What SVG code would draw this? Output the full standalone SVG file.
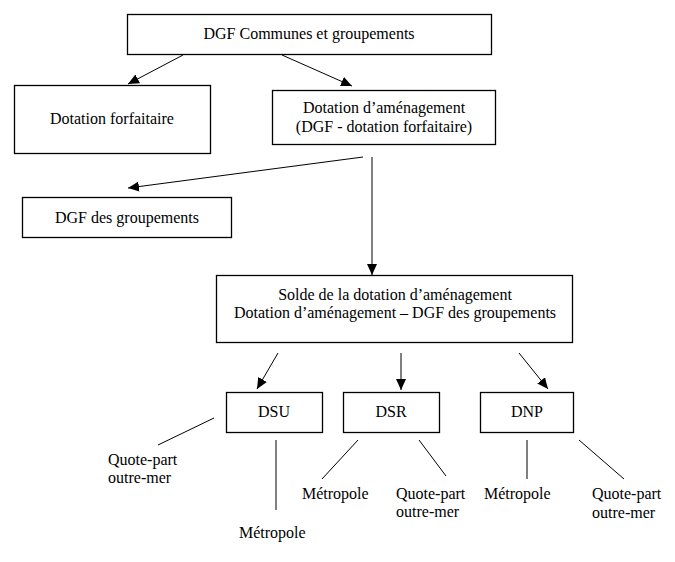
<svg xmlns="http://www.w3.org/2000/svg" width="675" height="562" viewBox="0 0 675 562">
<style>
.box{fill:#fff;stroke:#000;stroke-width:1.3}
.t{font-family:"Liberation Serif","Times New Roman",serif;font-size:16px;fill:#000}
.m{text-anchor:middle}
.c{stroke:#000;stroke-width:1;fill:none}
.a{marker-end:url(#ah)}
</style>
<defs>
<marker id="ah" markerUnits="userSpaceOnUse" markerWidth="12" markerHeight="10" viewBox="0 0 12 10" refX="11" refY="5" orient="auto">
<path d="M0,0 L11,5 L0,10 Z" fill="#000"/>
</marker>
</defs>
<rect width="675" height="562" fill="#fff"/>
<g id="connectors">
<line class="c a" x1="183" y1="55" x2="128" y2="84"/>
<line class="c a" x1="282" y1="55" x2="352" y2="86"/>
<line class="c a" x1="363" y1="157" x2="128" y2="188"/>
<line class="c a" x1="372" y1="157" x2="372" y2="275"/>
<line class="c a" x1="278" y1="353" x2="257" y2="389"/>
<line class="c a" x1="401" y1="353" x2="401" y2="390"/>
<line class="c a" x1="519" y1="353" x2="548" y2="389"/>
<line class="c" x1="214" y1="418" x2="158" y2="445"/>
<line class="c" x1="276" y1="440" x2="276" y2="510"/>
<line class="c" x1="358" y1="440" x2="322" y2="479"/>
<line class="c" x1="419" y1="440" x2="446" y2="476"/>
<line class="c" x1="527" y1="440" x2="527" y2="479"/>
<line class="c" x1="579" y1="440" x2="624" y2="479"/>
</g>
<g id="dgf-communes">
<rect class="box" x="127.5" y="14.5" width="364" height="40"/>
<text class="t m" x="309" y="39">DGF Communes et groupements</text>
</g>
<g id="dotation-forfaitaire">
<rect class="box" x="14.5" y="85.5" width="196" height="68"/>
<text class="t m" x="112" y="124">Dotation forfaitaire</text>
</g>
<g id="dotation-amenagement">
<rect class="box" x="272.5" y="90.5" width="223" height="54"/>
<text class="t m" x="384" y="113">Dotation d’aménagement</text>
<text class="t m" x="384" y="132">(DGF - dotation forfaitaire)</text>
</g>
<g id="dgf-groupements">
<rect class="box" x="22.5" y="197.5" width="209" height="40"/>
<text class="t m" x="127" y="223">DGF des groupements</text>
</g>
<g id="solde">
<rect class="box" x="216.5" y="275.5" width="356" height="67"/>
<text class="t m" x="395" y="300">Solde de la dotation d’aménagement</text>
<text class="t m" x="395" y="318">Dotation d’aménagement – DGF des groupements</text>
</g>
<g id="dsu">
<rect class="box" x="226.5" y="392.5" width="96" height="40"/>
<text class="t m" x="274" y="417">DSU</text>
</g>
<g id="dsr">
<rect class="box" x="343.5" y="392.5" width="96" height="40"/>
<text class="t m" x="391" y="417">DSR</text>
</g>
<g id="dnp">
<rect class="box" x="480.5" y="392.5" width="93" height="40"/>
<text class="t m" x="527" y="417">DNP</text>
</g>
<g id="dsu-outremer"><text class="t" x="108" y="465">Quote-part</text><text class="t" x="108" y="483">outre-mer</text></g>
<g id="dsu-metropole"><text class="t" x="239" y="538">Métropole</text></g>
<g id="dsr-metropole"><text class="t" x="302" y="499">Métropole</text></g>
<g id="dsr-outremer"><text class="t" x="396" y="499">Quote-part</text><text class="t" x="396" y="517">outre-mer</text></g>
<g id="dnp-metropole"><text class="t" x="484" y="499">Métropole</text></g>
<g id="dnp-outremer"><text class="t" x="592" y="499">Quote-part</text><text class="t" x="592" y="518">outre-mer</text></g>
</svg>
